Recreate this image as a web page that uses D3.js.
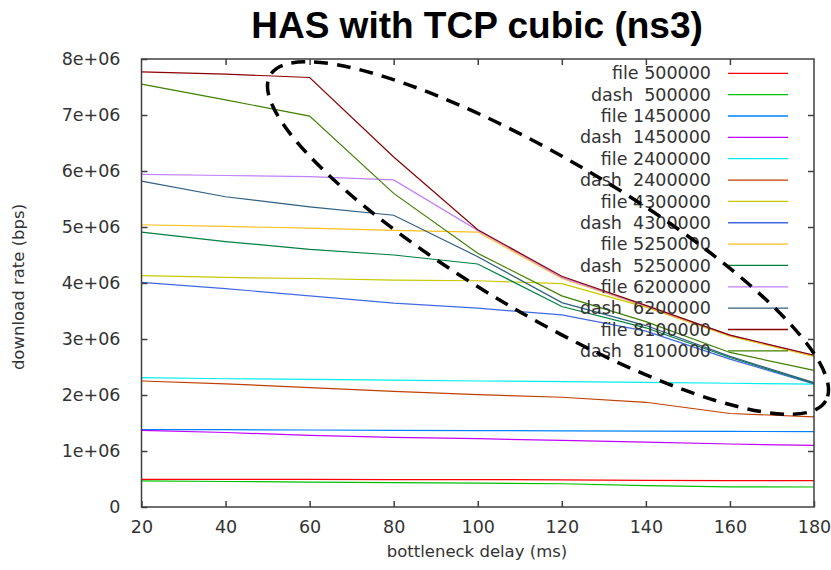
<!DOCTYPE html>
<html>
<head>
<meta charset="utf-8">
<script src="https://cdn.jsdelivr.net/npm/d3@7"></script>
<style>
  html, body { margin: 0; padding: 0; background: #fff; }
  svg { display: block; }
  text { white-space: pre; }
</style>
</head>
<body>
<script>
// ---- data ----
const delays = [20, 40, 60, 80, 100, 120, 140, 160, 180];
const yTickValues = [0, 1e6, 2e6, 3e6, 4e6, 5e6, 6e6, 7e6, 8e6];
const yTickLabels = ["0", "1e+06", "2e+06", "3e+06", "4e+06", "5e+06", "6e+06", "7e+06", "8e+06"];
const xTickValues = [20, 40, 60, 80, 100, 120, 140, 160, 180];

const seriesNames = ["file 500000", "dash  500000", "file 1450000", "dash  1450000",
  "file 2400000", "dash  2400000", "file 4300000", "dash  4300000",
  "file 5250000", "dash  5250000", "file 6200000", "dash  6200000",
  "file 8100000", "dash  8100000"];
const seriesColors = ["#ff0000", "#00c000", "#0080ff", "#c000ff", "#00eeee", "#c04000", "#c8c800",
  "#4169e1", "#ffc020", "#008040", "#c080ff", "#306080", "#8b0000", "#408000"];

const file500000  = [0.495, 0.495, 0.495, 0.49, 0.49, 0.485, 0.475, 0.47, 0.47];
const dash500000  = [0.465, 0.455, 0.445, 0.435, 0.425, 0.415, 0.38, 0.36, 0.357];
const file1450000 = [1.38, 1.38, 1.375, 1.37, 1.365, 1.36, 1.355, 1.35, 1.345];
const dash1450000 = [1.37, 1.33, 1.28, 1.245, 1.22, 1.19, 1.16, 1.125, 1.10];
const file2400000 = [2.31, 2.29, 2.28, 2.265, 2.25, 2.24, 2.225, 2.21, 2.195];
const dash2400000 = [2.25, 2.20, 2.13, 2.065, 2.005, 1.96, 1.87, 1.67, 1.61];
const file4300000 = [4.13, 4.10, 4.08, 4.05, 4.04, 3.99, 3.57, 3.05, 2.69];
const dash4300000 = [4.01, 3.90, 3.77, 3.64, 3.55, 3.43, 3.14, 2.64, 2.20];
const file5250000 = [5.04, 5.01, 4.98, 4.94, 4.91, 4.08, 3.58, 3.06, 2.70];
const dash5250000 = [4.91, 4.74, 4.60, 4.50, 4.34, 3.58, 3.20, 2.67, 2.21];
const file6200000 = [5.94, 5.92, 5.90, 5.84, 4.94, 4.10, 3.59, 3.07, 2.71];
const dash6200000 = [5.82, 5.54, 5.36, 5.21, 4.47, 3.65, 3.24, 2.69, 2.22];
const file8100000 = [7.77, 7.73, 7.67, 6.25, 4.95, 4.12, 3.60, 3.07, 2.71];
const dash8100000 = [7.55, 7.27, 6.98, 5.60, 4.53, 3.77, 3.31, 2.76, 2.44];

const seriesValues = [file500000, dash500000, file1450000, dash1450000, file2400000, dash2400000,
  file4300000, dash4300000, file5250000, dash5250000, file6200000, dash6200000,
  file8100000, dash8100000];

// ---- chart ----
const W = 831, H = 570;
const svg = d3.select("body").append("svg").attr("width", W).attr("height", H);

const x = d3.scaleLinear().domain([20, 180]).range([141.5, 814]);
const y = d3.scaleLinear().domain([0, 8e6]).range([507, 59]);

const font = "'DejaVu Sans', sans-serif";
const axisColor = "#404040";

// series
const line = d3.line().x((d, i) => x(delays[i])).y(d => y(d * 1e6));
const plot = svg.append("g");
seriesValues.forEach((vals, k) => {
  plot.append("path")
    .attr("d", line(vals))
    .attr("fill", "none")
    .attr("stroke", seriesColors[k])
    .attr("stroke-width", 1.2);
});

// frame
svg.append("rect")
  .attr("x", x(20)).attr("y", y(8e6))
  .attr("width", x(180) - x(20)).attr("height", y(0) - y(8e6))
  .attr("fill", "none").attr("stroke", axisColor).attr("stroke-width", 1.5);

// axes (ticks inward, mirrored)
const tickLen = 6;
const leftAxis = d3.axisLeft(y).tickValues(yTickValues)
  .tickFormat((d, i) => yTickLabels[i]).tickSizeInner(-tickLen).tickSizeOuter(0).tickPadding(21);
const gL = svg.append("g").attr("transform", `translate(${x(20)},0)`).call(leftAxis);
const rightAxis = d3.axisRight(y).tickValues(yTickValues.slice(1, -1)).tickFormat("").tickSizeInner(-tickLen).tickSizeOuter(0);
const gR = svg.append("g").attr("transform", `translate(${x(180)},0)`).call(rightAxis);
const bottomAxis = d3.axisBottom(x).tickValues(xTickValues).tickFormat(d3.format("d"))
  .tickSizeInner(-tickLen).tickSizeOuter(0).tickPadding(14);
const gB = svg.append("g").attr("transform", `translate(0,${y(0)})`).call(bottomAxis);
const topAxis = d3.axisTop(x).tickValues(xTickValues.slice(1, -1)).tickFormat("").tickSizeInner(-tickLen).tickSizeOuter(0);
const gT = svg.append("g").attr("transform", `translate(0,${y(8e6)})`).call(topAxis);

[gL, gR, gB, gT].forEach(g => {
  g.select(".domain").remove();
  g.selectAll(".tick line").attr("stroke", axisColor).attr("stroke-width", 1.5);
  g.selectAll(".tick text").attr("fill", "#333").style("font-family", font).style("font-size", "17.5px");
});

// legend
const legend = svg.append("g");
seriesNames.forEach((name, i) => {
  const ly = 73.3 + i * 21.35;
  legend.append("text")
    .attr("x", 711).attr("y", ly).attr("dy", "0.35em")
    .attr("text-anchor", "end")
    .attr("fill", "#333")
    .style("font-family", font).style("font-size", "17.5px")
    .text(name);
  legend.append("line")
    .attr("x1", 728).attr("x2", 788).attr("y1", ly).attr("y2", ly)
    .attr("stroke", seriesColors[i]).attr("stroke-width", 1.3);
});

// axis labels
svg.append("text")
  .attr("x", 477).attr("y", 557)
  .attr("text-anchor", "middle").attr("fill", "#333")
  .style("font-family", font).style("font-size", "16.5px")
  .text("bottleneck delay (ms)");
svg.append("text")
  .attr("transform", "translate(24,287) rotate(-90)")
  .attr("text-anchor", "middle").attr("fill", "#333")
  .style("font-family", font).style("font-size", "16.5px")
  .text("download rate (bps)");

// title
svg.append("text")
  .attr("x", 477).attr("y", 38)
  .attr("text-anchor", "middle").attr("fill", "#000")
  .style("font-family", "'Liberation Sans', Arial, sans-serif")
  .style("font-weight", "bold").style("font-size", "37px")
  .text("HAS with TCP cubic (ns3)");

// annotation: dashed ellipse
svg.append("ellipse")
  .attr("cx", 0).attr("cy", 0).attr("rx", 322).attr("ry", 78)
  .attr("transform", "translate(548,238) rotate(30.4)")
  .attr("fill", "none").attr("stroke", "#000")
  .attr("stroke-width", 3.5).attr("stroke-dasharray", "14,9");
</script>
</body>
</html>
